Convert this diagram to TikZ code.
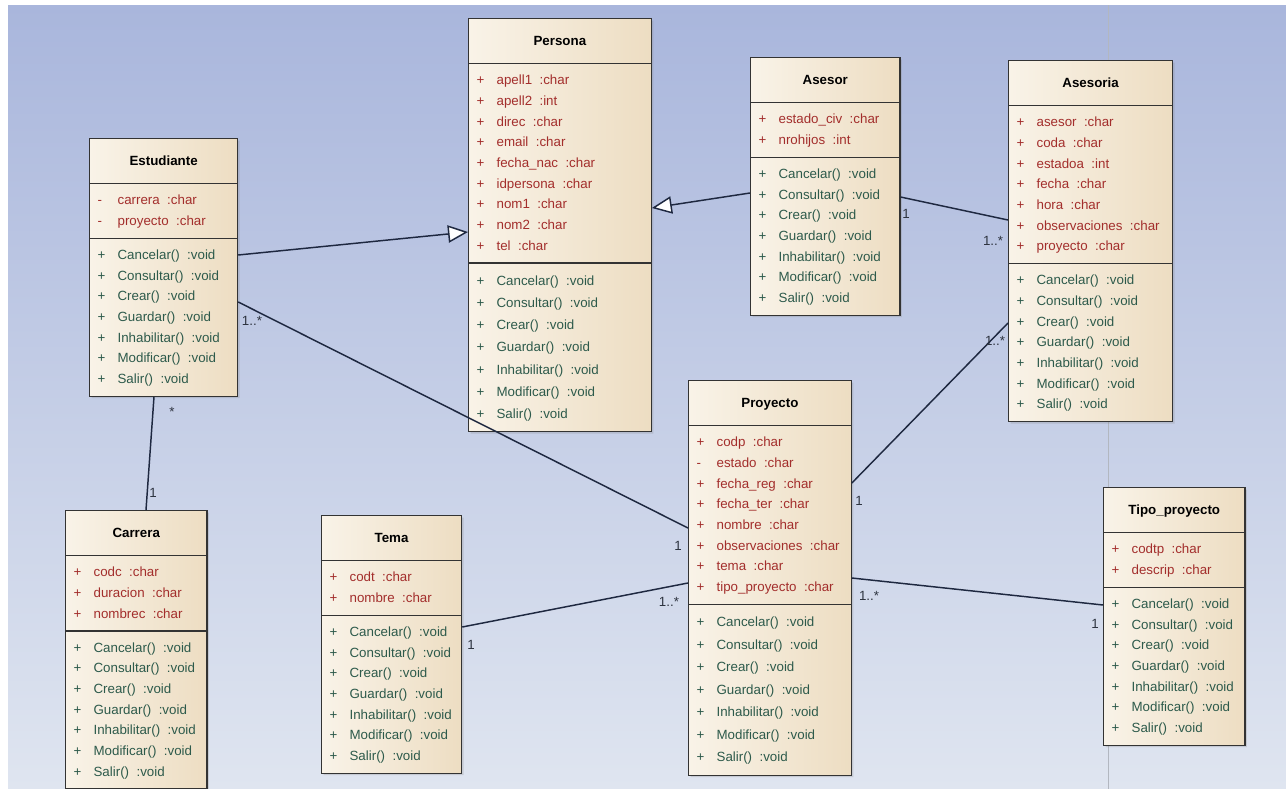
\documentclass[tikz,border=0pt]{standalone}
\usepackage{fontspec}
\setmainfont{Liberation Sans}
\usetikzlibrary{shapes.multipart,arrows.meta,calc,shadows}

\definecolor{fondoarriba}{HTML}{A9B6DC}
\definecolor{fondoabajo}{HTML}{DFE5F0}
\definecolor{claseizq}{HTML}{F9F3E8}
\definecolor{claseder}{HTML}{EDDDC2}
\definecolor{atributo}{HTML}{A32E2C}
\definecolor{metodo}{HTML}{2D5A4B}
\definecolor{linea}{HTML}{1E2840}
\definecolor{etiqueta}{HTML}{2E3440}

% filas de las clases
\newcommand{\attr}[3]{\textcolor{atributo}{#1} & \textcolor{atributo}{#2\ \ :#3}\\}
\newcommand{\meth}[2]{\textcolor{metodo}{+} & \textcolor{metodo}{#1()\ \ :#2}\\}
\newcommand{\atributos}[1]{\begin{tabular}{@{}p{15pt}@{}l@{}}#1\end{tabular}}
\newcommand{\metodos}[1][1]{\renewcommand{\arraystretch}{#1}\begin{tabular}{@{}p{15pt}@{}l@{}}
	\meth{Cancelar}{void}\meth{Consultar}{void}\meth{Crear}{void}\meth{Guardar}{void}
	\meth{Inhabilitar}{void}\meth{Modificar}{void}\meth{Salir}{void}\end{tabular}}
\newcommand{\titulo}[1]{\rule[-8.5pt]{0pt}{24pt}\textbf{#1}}

\tikzset{
	clase/.style={rectangle split, rectangle split parts=3, draw=black!80, line width=0.9pt,
		left color=claseizq, right color=claseder, anchor=north west,
		rectangle split part align={center,left,left},
		inner xsep=6pt, inner ysep=4.5pt,
		font=\fontsize{10}{15.5}\selectfont,
		drop shadow={shadow xshift=1.5pt, shadow yshift=-1.5pt, opacity=0.25}},
	enlace/.style={draw=linea, line width=1.1pt},
	herencia/.style={enlace, -{Triangle[fill=white, length=15pt, width=13pt]}},
	mult/.style={text=etiqueta, font=\fontsize{10}{12}\selectfont, inner sep=0pt}
}

\begin{document}
\begin{tikzpicture}[x=0.75pt,y=-0.75pt]
	\useasboundingbox (0,0) rectangle (1286,789);
	\fill[white] (0,0) rectangle (1286,789);
	\fill[top color=fondoarriba, bottom color=fondoabajo] (8,5) rectangle (1286,789);
	\draw[color=black!20!fondoabajo, line width=0.6pt] (1108,5) -- (1108,789);

	% clases
	\node[clase, minimum width=111pt] (est) at (89,138) {\titulo{Estudiante}
		\nodepart{two}\atributos{\attr{-}{carrera}{char}\attr{-}{proyecto}{char}}
		\nodepart{three}\metodos};
	\node[clase, minimum width=137pt] (per) at (468,18) {\titulo{Persona}
		\nodepart{two}\atributos{\attr{+}{apell1}{char}\attr{+}{apell2}{int}\attr{+}{direc}{char}
			\attr{+}{email}{char}\attr{+}{fecha\_nac}{char}\attr{+}{idpersona}{char}
			\attr{+}{nom1}{char}\attr{+}{nom2}{char}\attr{+}{tel}{char}}
		\nodepart{three}\metodos[1.075]};
	\node[clase, minimum width=112pt] (ase) at (750,57) {\titulo{Asesor}
		\nodepart{two}\atributos{\attr{+}{estado\_civ}{char}\attr{+}{nrohijos}{int}}
		\nodepart{three}\metodos};
	\node[clase, minimum width=123pt] (asa) at (1008,60) {\titulo{Asesoria}
		\nodepart{two}\atributos{\attr{+}{asesor}{char}\attr{+}{coda}{char}\attr{+}{estadoa}{int}
			\attr{+}{fecha}{char}\attr{+}{hora}{char}\attr{+}{observaciones}{char}\attr{+}{proyecto}{char}}
		\nodepart{three}\metodos};
	\node[clase, minimum width=122pt] (pro) at (688,380) {\titulo{Proyecto}
		\nodepart{two}\atributos{\attr{+}{codp}{char}\attr{-}{estado}{char}\attr{+}{fecha\_reg}{char}
			\attr{+}{fecha\_ter}{char}\attr{+}{nombre}{char}\attr{+}{observaciones}{char}
			\attr{+}{tema}{char}\attr{+}{tipo\_proyecto}{char}}
		\nodepart{three}\metodos[1.09]};
	\node[clase, minimum width=106pt] (car) at (65,510) {\titulo{Carrera}
		\nodepart{two}\atributos{\attr{+}{codc}{char}\attr{+}{duracion}{char}\attr{+}{nombrec}{char}}
		\nodepart{three}\metodos};
	\node[clase, minimum width=105pt] (tem) at (321,515) {\titulo{Tema}
		\nodepart{two}\atributos{\attr{+}{codt}{char}\attr{+}{nombre}{char}}
		\nodepart{three}\metodos};
	\node[clase, minimum width=106pt] (tip) at (1103,487) {\titulo{Tipo\_proyecto}
		\nodepart{two}\atributos{\attr{+}{codtp}{char}\attr{+}{descrip}{char}}
		\nodepart{three}\metodos};

	% generalizaciones
	\draw[herencia] ($(est.north east)+(0,117)$) -- ($(per.north west)+(0,214)$);
	\draw[herencia] ($(ase.north west)+(0,136)$) -- ($(per.north east)+(0,190)$);

	% asociaciones
	\draw[enlace] ($(ase.north east)+(0,140)$) -- ($(asa.north west)+(0,160)$);
	\draw[enlace] ($(est.north east)+(0,164)$) -- ($(pro.north west)+(0,148)$);
	\draw[enlace] ($(est.south west)+(65,0)$) -- ($(car.north west)+(81,0)$);
	\draw[enlace] ($(pro.north east)+(0,103)$) -- ($(asa.north west)+(0,263)$);
	\draw[enlace] ($(tem.north east)+(0,112)$) -- ($(pro.north west)+(0,203)$);
	\draw[enlace] ($(pro.north east)+(0,198)$) -- ($(tip.north west)+(0,118)$);

	% multiplicidades
	\node[mult] (m1) at (906,214) {1};
	\node[mult] (m2) at (993,241) {1..*};
	\node[mult] (m3) at (252,321) {1..*};
	\node[mult] (m4) at (678,546) {1};
	\node[mult] (m5) at (172,412) {*};
	\node[mult] (m6) at (153,493) {1};
	\node[mult] (m7) at (859,501) {1};
	\node[mult] (m8) at (995,341) {1..*};
	\node[mult] (m9) at (471,645) {1};
	\node[mult] (m10) at (669,602) {1..*};
	\node[mult] (m11) at (869,596) {1..*};
	\node[mult] (m12) at (1095,624) {1};
\end{tikzpicture}
\end{document}
